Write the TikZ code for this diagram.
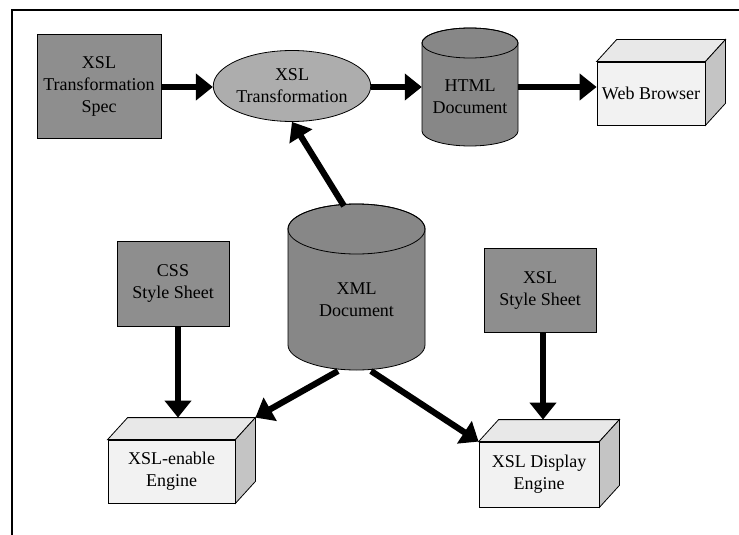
\documentclass[tikz,border=0pt]{standalone}
\usepackage{fontspec}
\setmainfont{Liberation Serif}
\usetikzlibrary{arrows.meta,shapes.geometric,calc}
\pgfdeclarelayer{bg}
\pgfsetlayers{bg,main}

\definecolor{boxgray}{HTML}{8E8E8E}
\definecolor{drumgray}{HTML}{878787}
\definecolor{ovalgray}{HTML}{ADADAD}
\definecolor{facefront}{HTML}{F2F2F2}
\definecolor{facetop}{HTML}{E8E8E8}
\definecolor{faceside}{HTML}{C4C4C4}

\tikzset{
  lbl/.style={font=\fontsize{18}{22}\selectfont, align=center, inner sep=0pt},
  graybox/.style={lbl, draw=black, line width=0.8pt, fill=boxgray},
  oval/.style={lbl, ellipse, draw=black, line width=0.8pt, fill=ovalgray},
  front/.style={lbl, draw=black, line width=0.8pt, fill=facefront},
  faceline/.style={draw=black, line width=0.8pt},
  drum/.style={draw=black, line width=0.8pt, fill=drumgray},
  flow/.style={line width=6.2pt, -{Triangle[width=26pt,length=17pt]}},
}

% raised box: top and right faces behind a front node
\newcommand\raisedbox[1]{%
  \begin{pgfonlayer}{bg}
    \path[faceline, fill=facetop] (#1.north west) -- ++(20,-22) -- ($(#1.north east)+(20,-22)$) -- (#1.north east) -- cycle;
    \path[faceline, fill=faceside] (#1.north east) -- ++(20,-22) -- ($(#1.south east)+(20,-22)$) -- (#1.south east) -- cycle;
  \end{pgfonlayer}}

% cylinder: centre x, top y, bottom y, x radius, y radius
\newcommand\drumshape[5]{%
  \begin{pgfonlayer}{bg}
    \path[drum] (#1-#4,#2+#5) -- (#1-#4,#3-#5)
      arc[start angle=180, end angle=0, x radius=#4, y radius=#5]
      -- (#1+#4,#2+#5)
      arc[start angle=0, end angle=-180, x radius=#4, y radius=#5] -- cycle;
    \draw[line width=0.8pt] (#1,#2+#5) ellipse[x radius=#4, y radius=#5];
  \end{pgfonlayer}}

\begin{document}
\begin{tikzpicture}[x=1pt, y=1pt, yscale=-1]
  \useasboundingbox (0,0) rectangle (739,535);
  \begin{pgfonlayer}{bg}
    \fill[white] (0,0) rectangle (739,535);
  \end{pgfonlayer}

  % outer frame
  \draw[line width=1.8pt] (12,535) -- (12,10) -- (739,10);

  % top row
  \node[graybox, minimum width=124pt, minimum height=104pt] (spec) at (99,86)
    {XSL\\Transformation\\Spec};
  \node[oval, minimum width=141pt, minimum height=71pt] (trans) at (292,86)
    {XSL\\Transformation};
  \drumshape{470}{28}{146}{48}{15}
  \node[lbl, minimum width=96pt] (html) at (470,97) {HTML\\Document};
  \node[front, minimum width=108pt, minimum height=63pt] (browser) at (651,93.5)
    {Web Browser};
  \raisedbox{browser}

  % centre store
  \drumshape{356.5}{204}{370}{68.5}{25}
  \node[lbl, minimum width=137pt] (xml) at (356.5,300) {XML\\Document};
  \coordinate (xmltop) at (344,206);
  \coordinate (xmlleft) at (338,371);
  \coordinate (xmlright) at (371,371);

  % style sheets
  \node[graybox, minimum width=112pt, minimum height=85pt] (css) at (173,283.5)
    {CSS\\Style Sheet};
  \node[graybox, minimum width=112pt, minimum height=84pt] (xslss) at (540,290)
    {XSL\\Style Sheet};

  % engines
  \node[front, minimum width=127pt, minimum height=63pt] (enable) at (171.5,471.5)
    {XSL-enable\\Engine};
  \raisedbox{enable}
  \node[front, minimum width=120pt, minimum height=65pt] (display) at (539,474.5)
    {XSL Display\\Engine};
  \raisedbox{display}
  \coordinate (enabletop) at ($(enable.north)+(6.5,-22)$);
  \coordinate (enablecorner) at ($(enable.north east)+(20,-22)$);
  \coordinate (displaytop) at ($(display.north)+(4,-22)$);

  % connectors
  \draw[flow] (spec.east |- 0,87) -- (trans.west |- 0,87);
  \draw[flow] (trans.east |- 0,87) -- (html.west |- 0,87);
  \draw[flow] (html.east |- 0,87) -- (browser.west |- 0,87);
  \draw[flow] (xmltop) -- (trans.south);
  \draw[flow] (css.south -| enabletop) -- (enabletop);
  \draw[flow] (xslss.south -| displaytop) -- (displaytop);
  \draw[flow] (xmlleft) -- (enablecorner);
  \draw[flow] (xmlright) -- (display.north west);
\end{tikzpicture}
\end{document}
